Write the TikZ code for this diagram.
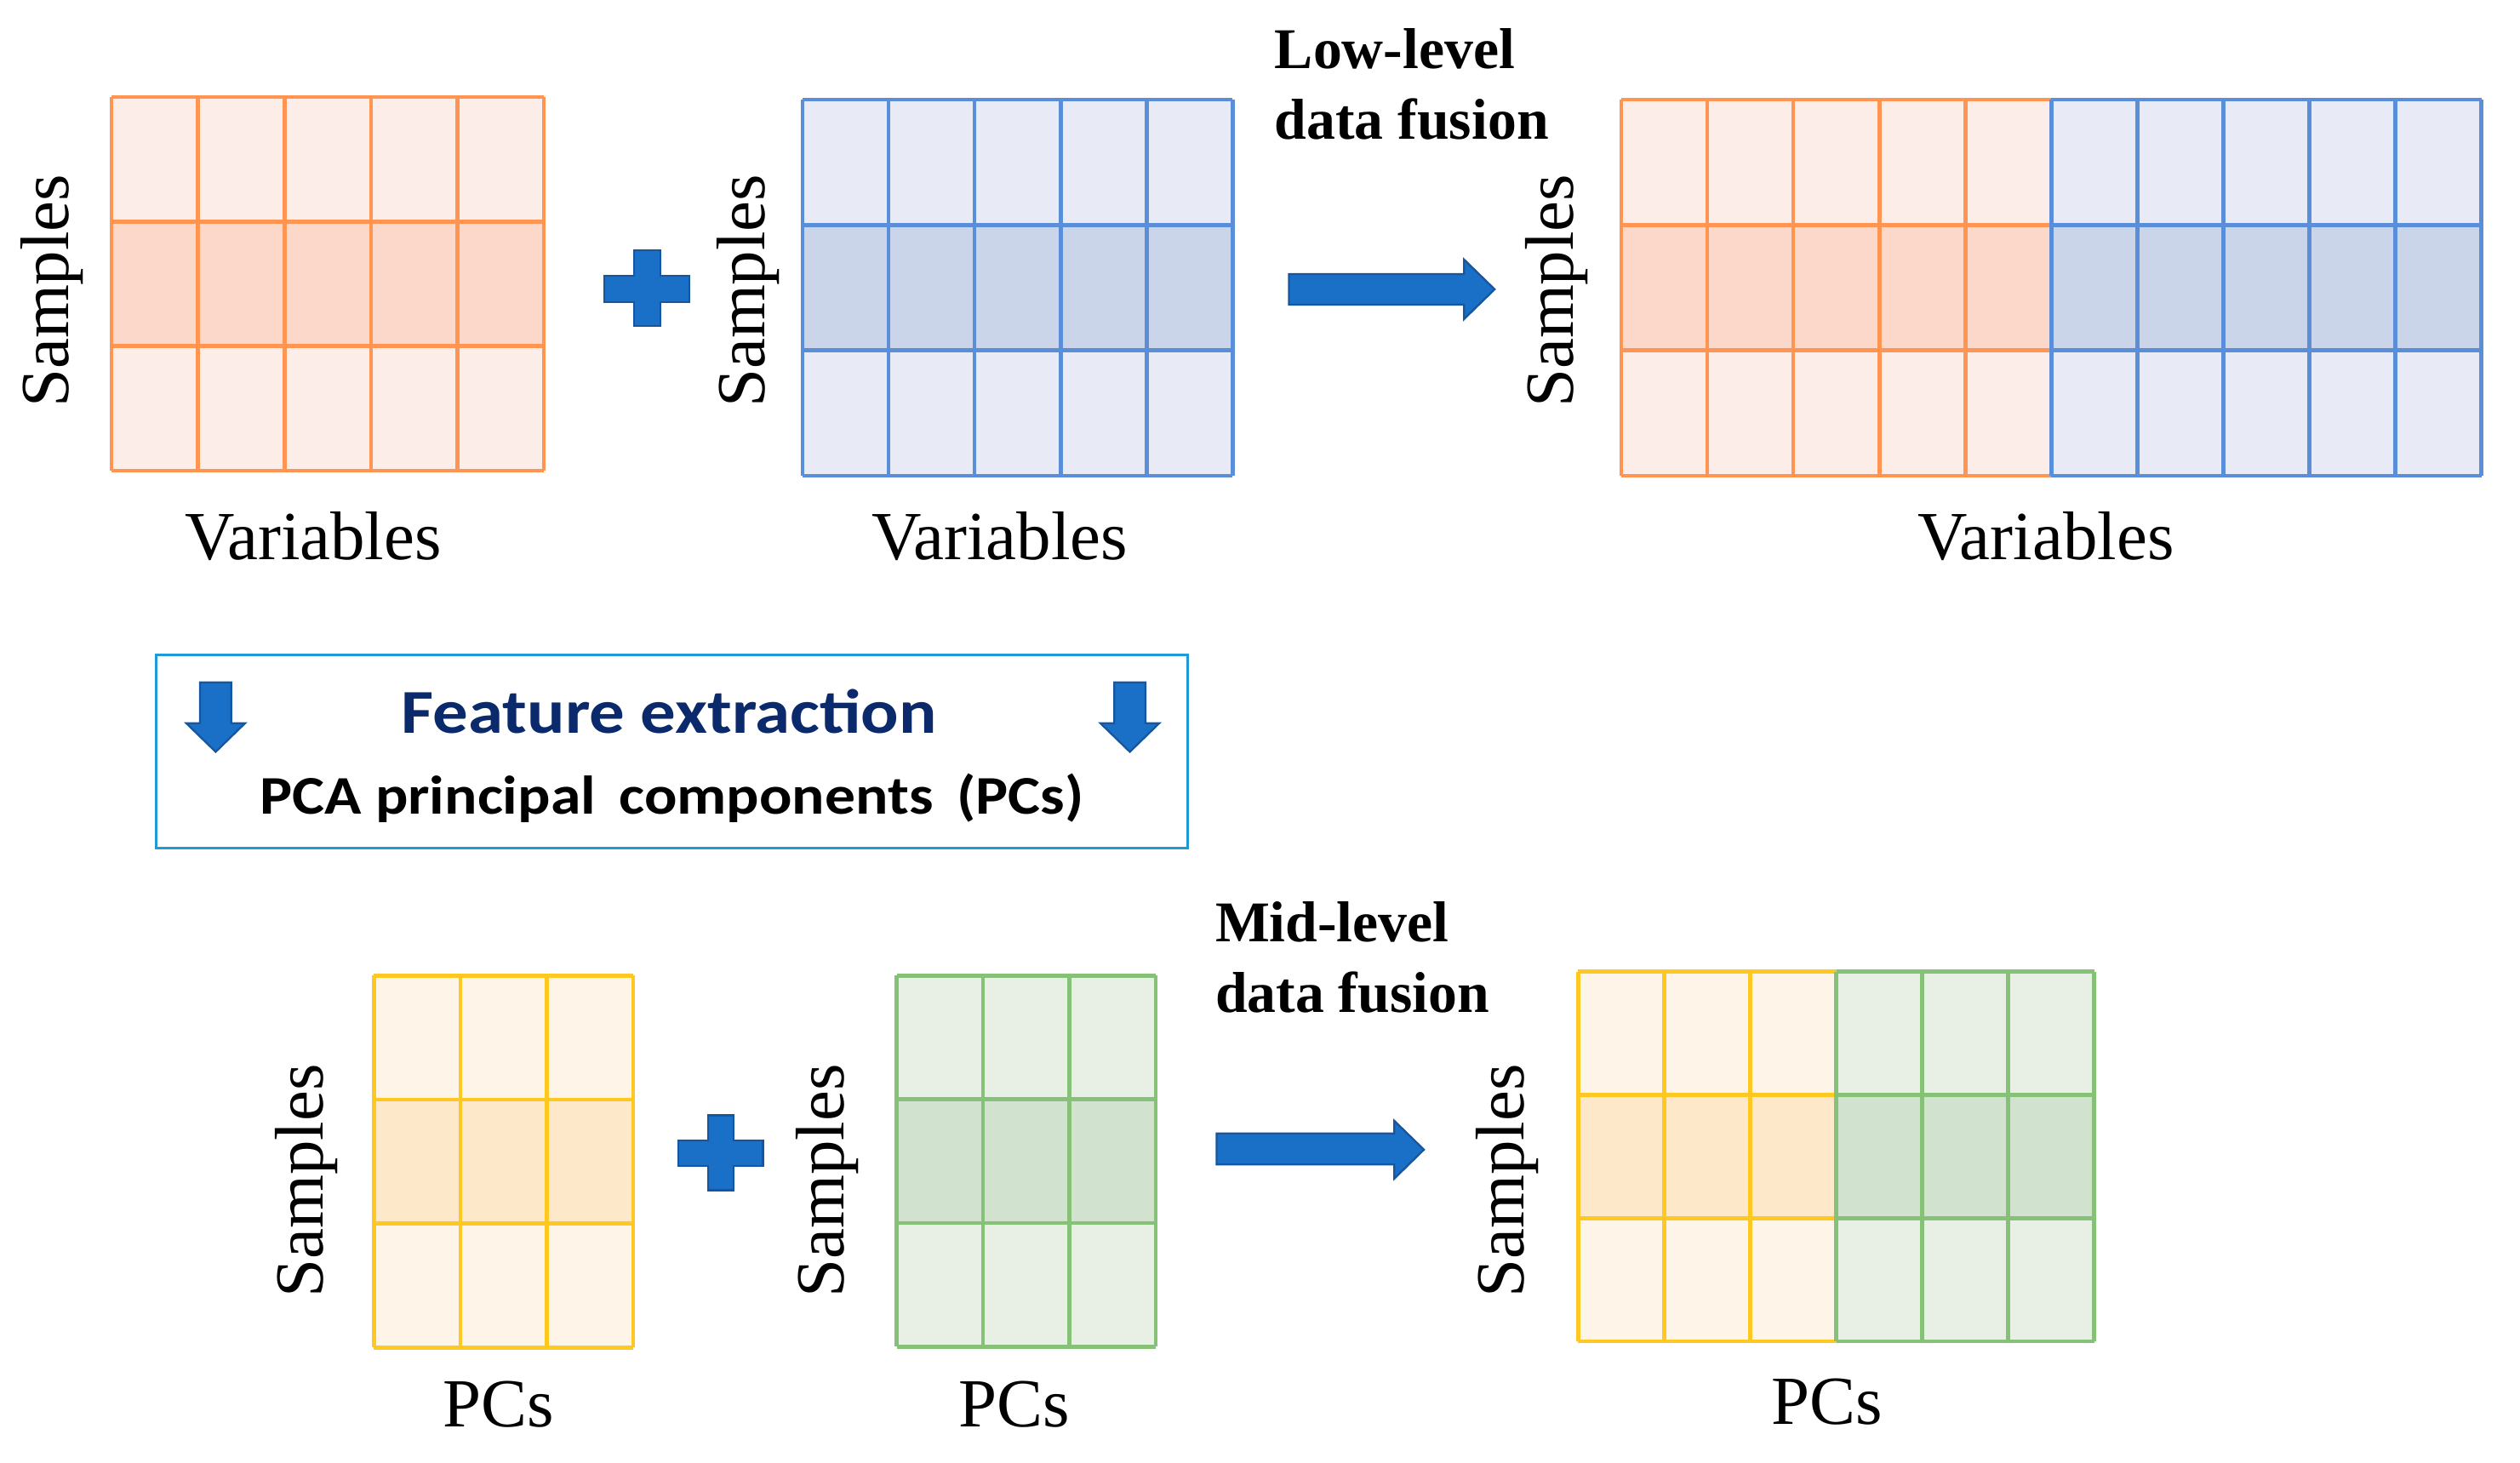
\documentclass[tikz,border=0pt]{standalone}
\usepackage{fontspec}
\usepackage{graphicx}
\setmainfont{Liberation Serif}
\newfontfamily\calib{Carlito}
\definecolor{orL}{HTML}{FDEDE8}
\definecolor{orM}{HTML}{FCD8CB}
\definecolor{orD}{HTML}{FF9550}
\definecolor{blL}{HTML}{E8EBF6}
\definecolor{blM}{HTML}{CBD5EA}
\definecolor{blD}{HTML}{5A8ED8}
\definecolor{yeL}{HTML}{FEF4E7}
\definecolor{yeM}{HTML}{FDE8CA}
\definecolor{yeD}{HTML}{FFC820}
\definecolor{grL}{HTML}{E8F0E5}
\definecolor{grM}{HTML}{D1E3CF}
\definecolor{grD}{HTML}{85C277}
\definecolor{shapeF}{HTML}{1A6FC6}
\definecolor{shapeB}{HTML}{16569E}
\definecolor{boxB}{HTML}{1F9AD6}
\definecolor{navy}{HTML}{0B2A6B}
\newcommand\mgrid[8]{%
  \fill[#6] (#1,#2) rectangle (#3,#4);
  \pgfmathsetmacro\gh{(#4-#2)/3}
  \fill[#7] (#1,#2+\gh) rectangle (#3,#2+2*\gh);
  \pgfmathsetmacro\gw{(#3-#1)/#5}
  \foreach \k in {0,...,#5} {\draw[#8, gridline] (#1+\k*\gw,#2) -- (#1+\k*\gw,#4);}
  \foreach \k in {0,...,3} {\draw[#8, gridline] (#1,#2+\k*\gh) -- (#3,#2+\k*\gh);}
}
\begin{document}
\begin{tikzpicture}[x=1bp,y=-1bp,
  gridline/.style={line width=2.4bp},
  blockshape/.style={fill=shapeF, draw=shapeB, line width=1.2bp, line join=miter},
  axislab/.style={inner sep=0pt, font=\fontsize{43}{50}\selectfont},
  vlab/.style={axislab, rotate=90, anchor=base},
  hlab/.style={axislab, anchor=base},
  fusionlab/.style={inner sep=0pt, anchor=base west, font=\fontsize{36}{44}\selectfont\bfseries},
  ]
\useasboundingbox (0,0) rectangle (1568,910);
% ---------- top row ----------
\mgrid{69.4}{60.4}{338.4}{292.8}{5}{orL}{orM}{orD}
\mgrid{499.4}{62}{767}{296}{5}{blL}{blM}{blD}
\mgrid{1008.8}{62}{1276.4}{296}{5}{orL}{orM}{orD}
\mgrid{1276.4}{62}{1544}{296}{5}{blL}{blM}{blD}
\node[vlab] (sa) at (42.4,181) {Samples};
\node[vlab] (sb) at (475.7,181) {Samples};
\node[vlab] (sc) at (978.6,181) {Samples};
\node[hlab] (va) at (195,348) {Variables};
\node[hlab] (vb) at (622,348) {Variables};
\node[hlab] (vc) at (1273,348) {Variables};
% plus 1
\draw[blockshape] (394.5,155.8) -- (411,155.8) -- (411,171.6) -- (429,171.6) -- (429,188) -- (411,188) -- (411,202.7) -- (394.5,202.7) -- (394.5,188) -- (376,188) -- (376,171.6) -- (394.5,171.6) -- cycle;
% arrow 1
\draw[blockshape] (802,170.5) -- (911,170.5) -- (911,161.5) -- (930,180) -- (911,198.5) -- (911,189.6) -- (802,189.6) -- cycle;
\node[fusionlab] (low1) at (793,42.4) {Low-level};
\node[fusionlab] (low2) at (793,86.5) {data fusion};
% ---------- feature extraction box ----------
\node[draw=boxB, line width=1.6bp, minimum width=641.6bp, minimum height=120.3bp, inner sep=0pt, anchor=north west] (fe) at (96.4,406.7) {};
\draw[blockshape] (124.4,424.5) -- (143.9,424.5) -- (143.9,450) -- (152.5,450) -- (134.2,467.8) -- (115.9,450) -- (124.4,450) -- cycle;
\draw[blockshape] (693.3,424.5) -- (712.8,424.5) -- (712.8,450) -- (721.3,450) -- (703,467.8) -- (684.7,450) -- (693.3,450) -- cycle;
\node[inner sep=0pt, anchor=base, text=navy, font=\calib\fontsize{39}{47}\selectfont\bfseries] (fet) at (416.5,456.3) {\scalebox{1.13}[1]{Feature extraction}};
\node[inner sep=0pt, anchor=base, font=\calib\fontsize{34}{42}\selectfont\bfseries] (pca) at (418,506.6) {\scalebox{1.12}[1]{PCA principal\hspace{13bp}components\hspace{13bp}(PCs)}};
% ---------- bottom row ----------
\mgrid{232.6}{607}{394}{838.5}{3}{yeL}{yeM}{yeD}
\mgrid{558}{607}{719}{838}{3}{grL}{grM}{grD}
\mgrid{982}{604.5}{1142.5}{834.6}{3}{yeL}{yeM}{yeD}
\mgrid{1142.5}{604.5}{1303}{834.6}{3}{grL}{grM}{grD}
\node[vlab] (sd) at (200.9,734.6) {Samples};
\node[vlab] (se) at (525,734.6) {Samples};
\node[vlab] (sf) at (948,734.6) {Samples};
\node[hlab] (pd) at (310,888) {PCs};
\node[hlab] (pe) at (631,888) {PCs};
\node[hlab] (pf) at (1137,886) {PCs};
% plus 2
\draw[blockshape] (440.4,694) -- (456.3,694) -- (456.3,709.6) -- (474.8,709.6) -- (474.8,725.5) -- (456.3,725.5) -- (456.3,740.5) -- (440.4,740.5) -- (440.4,725.5) -- (422.2,725.5) -- (422.2,709.6) -- (440.4,709.6) -- cycle;
% arrow 2
\draw[blockshape] (757,705.2) -- (867.5,705.2) -- (867.5,697.3) -- (886,715.3) -- (867.5,733.4) -- (867.5,724.6) -- (757,724.6) -- cycle;
\node[fusionlab] (mid1) at (756,586) {Mid-level};
\node[fusionlab] (mid2) at (756,630) {data fusion};
\end{tikzpicture}
\end{document}
